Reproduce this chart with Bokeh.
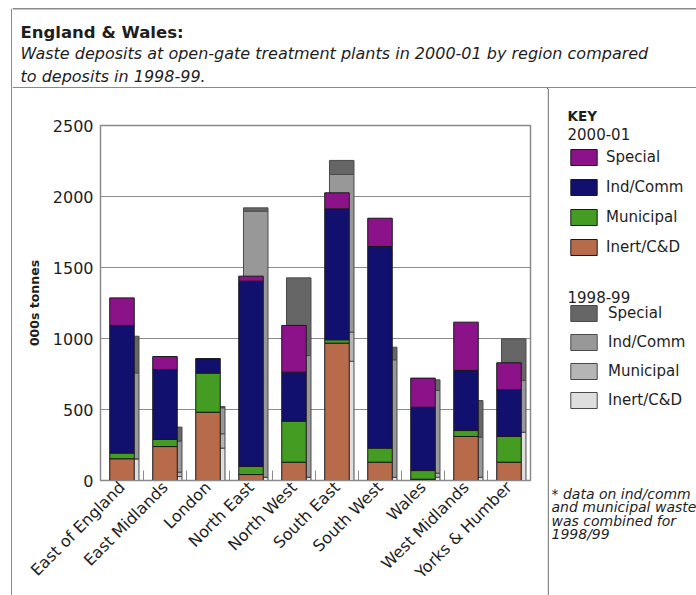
import math
from bokeh.plotting import figure
from bokeh.layouts import column, row
from bokeh.models import (Range1d, FixedTicker, Legend, LegendItem, Label,
                          Span, ColumnDataSource)
from bokeh.embed import file_html
from bokeh.resources import INLINE

# ---------------- data (000s tonnes) ----------------
regions = ["East of England", "East Midlands", "London", "North East", "North West",
           "South East", "South West", "Wales", "West Midlands", "Yorks & Humber"]

# 2000-01
inert_01 = [153, 239, 481, 42, 129, 967, 129, 9, 310, 129]
municipal_01 = [40, 50, 275, 57, 289, 24, 99, 61, 42, 181]
indcomm_01 = [899, 493, 101, 1305, 345, 922, 1420, 446, 423, 331]
special_01 = [194, 91, 0, 35, 329, 113, 199, 205, 340, 188]

# 1998-99
inert_99 = [153, 28, 228, 23, 23, 840, 23, 23, 23, 340]
municipal_99 = [0, 31, 101, 0, 0, 205, 0, 29, 0, 0]
indcomm_99 = [605, 218, 183, 1874, 857, 1110, 827, 582, 282, 364]
special_99 = [258, 99, 9, 23, 547, 99, 89, 75, 258, 294]

series_names = ["Inert/C&D", "Municipal", "Ind/Comm", "Special"]
y_ticks = [0, 500, 1000, 1500, 2000, 2500]

title_text = "England & Wales:"
subtitle_lines = ["Waste deposits at open-gate treatment plants in 2000-01 by region compared",
                  "to deposits in 1998-99."]
notes = ["* data on ind/comm", "and municipal waste", "was combined for", "1998/99"]

# ---------------- styles ----------------
FONT = "DejaVu Sans"
cols_01 = ["#b86b4b", "#459c22", "#11106f", "#8c1289"]
cols_99 = ["#dedede", "#b5b5b5", "#989898", "#666666"]
line_01 = "#1a1a1a"
line_99 = "#4a4a4a"
GREY = "#8a8a8a"
TXT = "#1e1e1e"

W, H = 696, 595
TOP_H = 88
BOT_H = H - TOP_H
LEFT_W = 12
KEY_W = 149
RIGHT_W = W - LEFT_W
CHART_W = RIGHT_W - KEY_W


def blank(width, height, xr, yr, **kw):
    f = figure(width=width, height=height, x_range=xr, y_range=yr,
               x_axis_type=None, y_axis_type=None, output_backend="svg",
               toolbar_location=None, min_border=0, **kw)
    f.frame_align = False
    f.grid.visible = False
    f.outline_line_color = None
    f.background_fill_color = "white"
    f.border_fill_color = "white"
    return f


def lab(x, y, text, size, style="normal"):
    return Label(x=x, y=y, text=text, text_font=FONT, text_font_size=size,
                 text_font_style=style, text_color=TXT, text_baseline="alphabetic")


# ---------------- left border strip (page x 0..12) ----------------
left = blank(LEFT_W, H, Range1d(0, LEFT_W), Range1d(0, H - 8), min_border_top=8)
left.add_layout(Span(location=11.25, dimension="height", line_color=GREY, line_width=1.5))

# ---------------- header (page x 12..696, y 0..88) ----------------
top = blank(RIGHT_W, TOP_H, Range1d(LEFT_W, W), Range1d(TOP_H, 0))
top.add_layout(Span(location=8.25, dimension="width", line_color=GREY, line_width=1.5))
top.add_layout(Span(location=87.25, dimension="width", line_color=GREY, line_width=1.5))
top.add_layout(lab(20, 31.5, title_text, "16.5px", "bold"))
top.add_layout(lab(20, 53.3, subtitle_lines[0], "16px", "italic"))
top.add_layout(lab(20, 75.5, subtitle_lines[1], "16px", "italic"))

# ---------------- chart (page x 12..547, y 88..595) ----------------
n = len(regions)
centers = [i + 0.5 for i in range(n)]
src01 = ColumnDataSource(dict(x=centers, inert=inert_01, municipal=municipal_01,
                              indcomm=indcomm_01, special=special_01))
src99 = ColumnDataSource(dict(x=[c + 0.11 for c in centers], inert=inert_99,
                              municipal=municipal_99, indcomm=indcomm_99,
                              special=special_99))

p = figure(width=CHART_W, height=BOT_H,
           x_range=Range1d(0, n), y_range=Range1d(0, y_ticks[-1]),
           output_backend="svg", toolbar_location=None,
           min_border_left=100 - LEFT_W, min_border_right=547 - 530,
           min_border_top=125 - TOP_H, min_border_bottom=H - 480)
p.frame_align = False
p.outline_line_color = GREY
p.outline_line_width = 1.5
p.background_fill_color = "white"
p.border_fill_color = "white"

stack = ["inert", "municipal", "indcomm", "special"]
p.vbar_stack(stack, x="x", width=0.57, source=src99,
             fill_color=cols_99, line_color=line_99, line_width=1)
p.vbar_stack(stack, x="x", width=0.57, source=src01,
             fill_color=cols_01, line_color=line_01, line_width=1)

p.xgrid.visible = False
p.ygrid.grid_line_color = GREY
p.ygrid.grid_line_width = 1.2
p.ygrid.ticker = FixedTicker(ticks=y_ticks)

p.yaxis.ticker = FixedTicker(ticks=y_ticks)
p.yaxis.axis_line_color = GREY
p.yaxis.major_tick_out = 0
p.yaxis.major_tick_in = 0
p.yaxis.minor_tick_out = 0
p.yaxis.minor_tick_in = 0
p.yaxis.major_label_text_font = FONT
p.yaxis.major_label_text_font_size = "16px"
p.yaxis.major_label_text_color = TXT
p.yaxis.major_label_standoff = 7
p.yaxis.axis_label = "000s tonnes"
p.yaxis.axis_label_text_font = FONT
p.yaxis.axis_label_text_font_size = "12.5px"
p.yaxis.axis_label_text_font_style = "bold"
p.yaxis.axis_label_text_color = TXT
p.yaxis.axis_label_standoff = 8

p.xaxis.ticker = FixedTicker(ticks=centers, minor_ticks=list(range(1, n)))
p.xaxis.major_label_overrides = {c: r for c, r in zip(centers, regions)}
p.xaxis.major_label_orientation = math.pi / 4
p.xaxis.major_tick_in = 0
p.xaxis.major_tick_out = 0
p.xaxis.minor_tick_in = 10
p.xaxis.minor_tick_out = 0
p.xaxis.minor_tick_line_color = GREY
p.xaxis.axis_line_color = GREY
p.xaxis.major_label_text_font = FONT
p.xaxis.major_label_text_font_size = "16px"
p.xaxis.major_label_text_color = TXT
p.xaxis.major_label_standoff = 4

# ---------------- key (page x 547..696, y 88..595) ----------------
px0 = W - KEY_W
key = blank(KEY_W, BOT_H, Range1d(px0, W), Range1d(H, TOP_H))
key.add_layout(Span(location=px0 + 0.75, dimension="height", line_color=GREY, line_width=1.5))

key.add_layout(lab(567, 115, "KEY", "13.5px", "bold"))
key.add_layout(lab(567, 133, "2000-01", "15px"))
key.add_layout(lab(567, 296.5, "1998-99", "15px"))

# legend-only proxy source: a single zero-height bar outside the key's visible range
proxy_src = ColumnDataSource(dict(x=[0], top=[0], bottom=[0]))


def make_legend(colors, lcolor, bottom_page_y, spacing, standoff):
    proxies = [key.vbar(x="x", top="top", bottom="bottom", width=1, source=proxy_src,
                        fill_color=c, line_color=lcolor, line_width=1) for c in colors]
    items = [LegendItem(label=series_names[i], renderers=[proxies[i]]) for i in (3, 2, 1, 0)]
    return Legend(items=items, location=(567 - px0, H - bottom_page_y),
                  glyph_width=33, glyph_height=20, label_height=20, spacing=spacing,
                  label_standoff=standoff, padding=0, margin=0,
                  border_line_color=None, background_fill_alpha=0,
                  label_text_font=FONT, label_text_font_size="15px",
                  label_text_color=TXT)


key.add_layout(make_legend(cols_01, line_01, 257, 10, 6))
key.add_layout(make_legend(cols_99, line_99, 410, 9, 8))

for k, t in enumerate(notes):
    key.add_layout(lab(551, 493 + 13.5 * k, t, "14px", "italic"))

layout = row(left, column(top, row(p, key, spacing=0), spacing=0), spacing=0)
open("out.html", "w").write(file_html(layout, INLINE))
